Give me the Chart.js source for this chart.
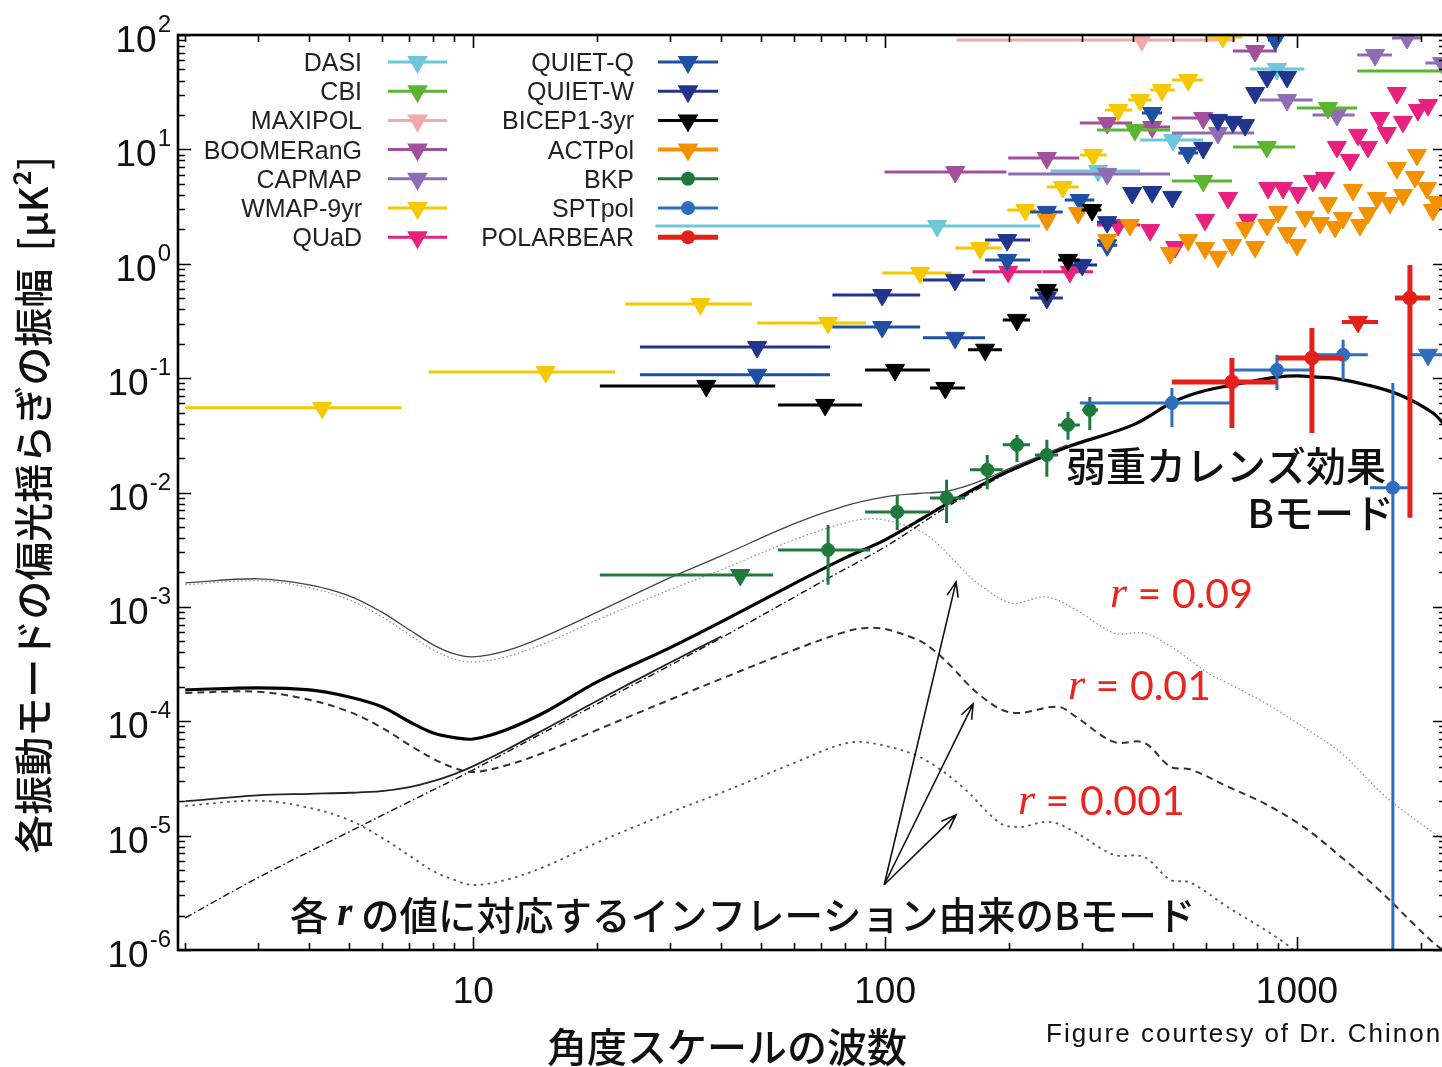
<!DOCTYPE html>
<html>
<head>
<meta charset="utf-8">
<script src="https://cdn.jsdelivr.net/npm/chart.js@4.4.1/dist/chart.umd.min.js"></script>
<style>
  html, body { margin: 0; padding: 0; background: #fff; overflow: hidden; }
  #wrap { width: 1442px; height: 1067px; overflow: hidden; position: relative; }
  canvas { display: block; }
</style>
</head>
<body>
<div id="wrap"><canvas id="chart" width="1460" height="1067"></canvas></div>
<script>
// ---------------------------------------------------------------------------
// Axis ranges and tick labels
// ---------------------------------------------------------------------------
const ellMin = 1.92, ellMax = 2300;
const dlMin = 1e-6, dlMax = 1e2;
const xTickLabels = ['10', '100', '1000'];
const yTickPowers = [2, 1, 0, -1, -2, -3, -4, -5, -6];

// ---------------------------------------------------------------------------
// Theory curves: multipole ell and D_ell [uK^2]
// ---------------------------------------------------------------------------
const lensEll = [2, 3, 5, 7, 10, 20, 40, 70, 100, 140, 177, 200, 277, 400, 500, 582, 700, 894, 1000, 1118, 1223, 1479, 1778, 2138, 2300];
const lensDl  = [1.91e-6, 4.28e-6, 1.08e-5, 1.98e-5, 3.76e-5, 1.42e-4, 5.36e-4, 1.65e-3, 3.35e-3, 7.33e-3, 0.0119, 0.0151, 0.0250, 0.0390, 0.0619, 0.0757, 0.0872, 0.102, 0.1045, 0.102, 0.100, 0.0872, 0.0713, 0.0496, 0.0375];

const tot01Ell = [2, 3, 4, 5, 6, 7, 8, 9, 10, 12, 15, 20, 30, 40, 60, 80, 100, 140, 177, 200, 277, 400, 500, 582, 700, 894, 1000, 1118, 1223, 1479, 1778, 2138, 2300];
const tot01Dl  = [1.88e-4, 1.96e-4, 1.88e-4, 1.63e-4, 1.34e-4, 9.9e-5, 7.9e-5, 7.2e-5, 7.0e-5, 8.4e-5, 1.21e-4, 2.21e-4, 4.38e-4, 7.39e-4, 1.59e-3, 2.68e-3, 3.85e-3, 7.79e-3, 0.0124, 0.0154, 0.0250, 0.0390, 0.0619, 0.0757, 0.0872, 0.102, 0.1045, 0.102, 0.100, 0.0872, 0.0713, 0.0496, 0.0375];

const prim01Ell = [2, 3, 4, 5, 6, 7, 8, 9, 10, 12, 15, 20, 30, 40, 60, 80, 90, 100, 120, 131, 145, 159, 172, 192, 212, 263, 291, 359, 425, 493, 550, 676, 836, 1035, 1280, 1575, 1948, 2120, 2300];
const prim01Dl  = [1.77e-4, 1.81e-4, 1.54e-4, 1.21e-4, 8.8e-5, 6.2e-5, 4.7e-5, 3.9e-5, 3.6e-5, 4.1e-5, 5.4e-5, 8.4e-5, 1.54e-4, 2.35e-4, 4.2e-4, 6.05e-4, 6.55e-4, 6.4e-4, 5.15e-4, 4.2e-4, 3.0e-4, 2.1e-4, 1.63e-4, 1.26e-4, 1.18e-4, 1.34e-4, 1.09e-4, 6.6e-5, 6.5e-5, 4.0e-5, 3.8e-5, 2.7e-5, 1.9e-5, 1.2e-5, 6.5e-6, 3.4e-6, 1.6e-6, 1.2e-6, 9.5e-7];

const tot09Ell = [2, 3, 4, 5, 6, 7, 8, 9, 10, 12, 15, 20, 30, 40, 60, 80, 100, 120, 140, 160, 180, 200, 230, 260, 277];
const tot09Dl  = [1.62e-3, 1.76e-3, 1.56e-3, 1.25e-3, 9.0e-4, 6.3e-4, 4.66e-4, 3.88e-4, 3.66e-4, 4.12e-4, 5.58e-4, 9.0e-4, 1.79e-3, 2.79e-3, 5.32e-3, 7.64e-3, 9.16e-3, 9.8e-3, 1.02e-2, 1.16e-2, 1.37e-2, 1.62e-2, 1.99e-2, 2.38e-2, 2.61e-2];

const prim09Ell = [2, 3, 4, 5, 6, 7, 8, 9, 10, 12, 15, 20, 30, 40, 60, 80, 90, 100, 120, 131, 145, 159, 172, 203, 246, 291, 360, 425, 494, 608, 676, 836, 1035, 1279, 1644, 2300];
const prim09Dl  = [1.56e-3, 1.69e-3, 1.47e-3, 1.15e-3, 8.2e-4, 5.7e-4, 4.2e-4, 3.5e-4, 3.3e-4, 3.66e-4, 4.84e-4, 7.7e-4, 1.41e-3, 2.11e-3, 3.85e-3, 5.42e-3, 5.87e-3, 5.75e-3, 4.71e-3, 3.85e-3, 2.68e-3, 1.90e-3, 1.50e-3, 1.08e-3, 1.22e-3, 9.4e-4, 5.9e-4, 5.9e-4, 4.5e-4, 2.65e-4, 2.17e-4, 1.45e-4, 8.9e-5, 5.3e-5, 2.18e-5, 8.8e-6];

const tot001Ell = [2, 3, 4, 5, 6, 7, 8, 9, 10, 12, 15, 20, 30, 40];
const tot001Dl  = [2.0e-5, 2.25e-5, 2.32e-5, 2.37e-5, 2.45e-5, 2.65e-5, 3.0e-5, 3.45e-5, 4.05e-5, 5.6e-5, 8.6e-5, 1.51e-4, 3.25e-4, 5.5e-4];

const prim001Ell = [2, 3, 4, 5, 6, 7, 8, 9, 10, 12, 15, 20, 30, 40, 60, 82, 102, 125, 154, 190, 212, 251, 291, 359, 425, 493, 550, 676, 931, 1150];
const prim001Dl  = [1.82e-5, 2.02e-5, 1.75e-5, 1.37e-5, 9.6e-6, 6.7e-6, 4.9e-6, 4.1e-6, 3.7e-6, 4.1e-6, 5.4e-6, 8.7e-6, 1.59e-5, 2.37e-5, 4.3e-5, 6.5e-5, 6.0e-5, 4.6e-5, 2.67e-5, 1.29e-5, 1.19e-5, 1.32e-5, 1.06e-5, 6.8e-6, 6.5e-6, 4.1e-6, 3.9e-6, 2.4e-6, 1.16e-6, 6e-7];

// ---------------------------------------------------------------------------
// Upper limits: [ell, D_ell, ellLo, ellHi]  (bin edges optional)
// ---------------------------------------------------------------------------
const dasi = [[133.7, 2.14, 27.7, 238], [329, 6.47, 252, 416], [500, 12.1, 416, 591], [894, 50.5, 770, 1042]];
const cbi = [[404, 14.8, 327, 492], [592, 5.30, 497, 695], [845, 10.5, 699, 990], [1189, 23.0, 1000, 1400], [2630, 48.4, 1400, 4000]];
const maxipol = [[420, 90.4, 149, 708]];
const boomerang = [[148, 6.34, 99.7, 197], [247, 8.41, 199, 296], [346, 17.0, 297, 398], [445, 15.7, 398, 492], [592, 18.8, 497, 695], [791, 72.4, 699, 894]];
const capmap = [[346, 6.10, 199, 492], [643, 13.9, 497, 787], [946, 27.0, 813, 1091], [1250, 20.0, 1091, 1380], [1547, 66.8, 1400, 1700], [1850, 94, 1700, 2000], [2250, 56.9, 2050, 2500]];
const wmap = [[4.3, 0.055, 2, 6.7], [15.0, 0.113, 7.8, 22.1], [35.6, 0.445, 23.4, 47.5], [72.7, 0.304, 48.9, 89.9], [121.6, 0.832, 98.4, 145],
  [170, 1.37, 148, 192], [219, 2.95, 198, 233], [270, 4.69, 247, 295], [320, 8.93, 297, 345], [368, 22.1, 342, 398],
  [416, 27.0, 389, 444], [470, 33.0, 440, 505], [544, 40.4, 497, 592], [661, 96, 597, 737]];
const quad = [[199, 0.85, 163, 240], [281, 0.85, 241, 320], [368, 2.18, 327, 416], [440, 1.97], [506, 1.40], [598, 2.42], [680, 3.76], [760, 2.42],
  [851, 4.60], [925, 4.60], [1005, 4.16], [1093, 5.30], [1169, 5.62], [1250, 10.5], [1345, 8.08], [1406, 13.4], [1487, 10.5],
  [1590, 18.8], [1652, 13.9], [1748, 31.1], [1808, 17.4], [1966, 22.1], [2080, 24.4]];
const quietQ = [[48.9, 0.107, 25.4, 73.5], [98.4, 0.280, 74.5, 121.6], [147.9, 0.225, 123.6, 174.9], [197.9, 1.08, 174.9, 224.9],
  [247, 2.84, 225, 270], [297, 3.61, 273, 322], [346, 1.45, 327, 366], [445, 20.8, 420, 470], [544, 9.31, 515, 575], [885, 90.4, 850, 920]];
const quietW = [[48.9, 0.187, 25.4, 73.5], [98.4, 0.533, 74.5, 121.6], [147.9, 0.722, 123.6, 174.9], [197.9, 1.61, 174.9, 224.9],
  [247, 0.502, 225, 270], [301, 0.977, 273, 327], [346, 2.31, 327, 366], [398, 4.16], [445, 4.24], [498, 3.84], [592, 10.3],
  [643, 18.1], [699, 17.4], [748, 16.3], [791, 31.1], [846, 43.0], [946, 43.0]];
const bicep = [[36.8, 0.0855, 20.3, 54.1], [71.5, 0.0583, 55.0, 87.9], [105.7, 0.118, 89.4, 128.5], [140, 0.082, 128.5, 156.3],
  [174.9, 0.177, 159, 192], [209, 0.323, 193, 225], [247, 0.590, 231, 263], [278, 1.08, 263, 297], [318, 2.95, 300, 335]];
const actpol = [[247, 2.42], [294, 2.78], [346, 1.61], [393, 2.18], [492, 1.24], [544, 1.61], [598, 1.37], [643, 1.15], [696, 1.46],
  [748, 2.06], [791, 1.40], [846, 2.18], [899, 2.84], [946, 1.86], [1000, 1.46], [1046, 2.57], [1137, 2.27], [1189, 3.40],
  [1237, 2.10], [1293, 2.51], [1367, 4.42], [1422, 2.18], [1487, 2.78], [1564, 3.76], [1681, 3.40], [1748, 6.88], [1809, 3.99],
  [1934, 5.74], [1956, 8.94], [2068, 4.60], [2138, 2.95], [2186, 3.47]];
const bkpLimit = [[44.5, 1.90e-3, 20.3, 53.5]];
const sptLimit = [[2080, 0.160, 1880, 2300]];
const pbLimit = [[1406, 0.310, 1285, 1573]];

// ---------------------------------------------------------------------------
// Detections: [ell, D_ell, ellLo, ellHi, dLo, dHi]
// ---------------------------------------------------------------------------
const bkp = [[72.7, 3.15e-3, 55.0, 92.0, 1.56e-3, 5.21e-3], [107, 6.76e-3, 89.4, 128.5, 4.71e-3, 9.5e-3],
  [141, 8.97e-3, 128.5, 156.3, 5.42e-3, 0.0129], [177, 0.0158, 160.6, 193, 0.0107, 0.0213],
  [209, 0.0261, 193, 225, 0.0185, 0.0319], [247, 0.0213, 231, 263, 0.0137, 0.0289],
  [278, 0.039, 263, 297, 0.0289, 0.0507], [314, 0.0527, 301, 329, 0.0352, 0.0685]];
const sptpol = [[497, 0.0607, 297, 688, 0.0374, 0.082], [894, 0.118, 699, 1076, 0.0789, 0.160],
  [1294, 0.160, 1076, 1486, 0.0964, 0.216], [1709, 0.0110, 1503, 1859, 1e-7, 0.0908]];
const polarbear = [[695, 0.0927, 497, 894, 0.0367, 0.150], [1087, 0.150, 894, 1294, 0.0332, 0.275],
  [1880, 0.502, 1729, 2104, 6.0e-3, 0.977]];

// Arrows from the caption to the three primordial curves
const arrowFrom = [99.5, 3.72e-6];
const arrowTips = [[148.7, 1.655e-3], [163.6, 1.42e-4], [148.7, 1.52e-5]];

const legendLeft = ['DASI', 'CBI', 'MAXIPOL', 'BOOMERanG', 'CAPMAP', 'WMAP-9yr', 'QUaD'];
const legendRight = ['QUIET-Q', 'QUIET-W', 'BICEP1-3yr', 'ACTPol', 'BKP', 'SPTpol', 'POLARBEAR'];

// ---------------------------------------------------------------------------
// Dataset builders
// ---------------------------------------------------------------------------
function curve(ells, vals, style) {
  return Object.assign({
    data: ells.map((e, i) => ({ x: e, y: vals[i] })),
    showLine: true, pointRadius: 0, fill: false, clip: 0,
    tension: 0.35, order: 50
  }, style);
}

function limits(label, rows, color, order, extra) {
  return Object.assign({
    label,
    data: rows.map(r => ({ x: r[0], y: r[1], xMin: r[2], xMax: r[3] })),
    showLine: false, pointStyle: 'triangle', rotation: 180, pointRadius: 11,
    backgroundColor: color, borderColor: color, pointBorderWidth: 1,
    bars: true, barWidth: 3, order
  }, extra);
}

function detections(label, rows, color, order, extra) {
  return Object.assign({
    label,
    data: rows.map(r => ({ x: r[0], y: r[1], xMin: r[2], xMax: r[3], yMin: r[4], yMax: r[5] })),
    showLine: false, pointStyle: 'circle', pointRadius: 6.5,
    backgroundColor: color, borderColor: color, pointBorderWidth: 1,
    bars: true, barWidth: 3, order
  }, extra);
}

const colors = {
  DASI: '#6ec6d9', CBI: '#5cb531', MAXIPOL: '#f4a9a9', BOOMERanG: '#a24f9d', CAPMAP: '#8f6db5',
  'WMAP-9yr': '#f5c800', QUaD: '#e6217f', 'QUIET-Q': '#1f4fa3', 'QUIET-W': '#22358e',
  'BICEP1-3yr': '#000000', ACTPol: '#f39200', BKP: '#1e7a3c', SPTpol: '#2f6ebd', POLARBEAR: '#e4201b'
};

const datasets = [
  curve(prim09Ell, prim09Dl, { borderColor: '#8a8a8a', borderWidth: 1.2, borderDash: [1.5, 2.5] }),
  curve(tot09Ell, tot09Dl, { borderColor: '#444', borderWidth: 1.3 }),
  curve(prim001Ell, prim001Dl, { borderColor: '#555', borderWidth: 1.8, borderDash: [2.5, 4.5] }),
  curve(tot001Ell, tot001Dl, { borderColor: '#222', borderWidth: 1.8 }),
  curve(prim01Ell, prim01Dl, { borderColor: '#333', borderWidth: 2, borderDash: [7, 5] }),
  curve(lensEll, lensDl, { borderColor: '#111', borderWidth: 1.4, borderDash: [7, 3, 1.5, 3] }),
  curve(tot01Ell, tot01Dl, { borderColor: '#000', borderWidth: 3.2 }),

  limits('MAXIPOL', maxipol, colors.MAXIPOL, 20),
  limits('DASI', dasi, colors.DASI, 19),
  limits('CAPMAP', capmap, colors.CAPMAP, 18),
  limits('BOOMERanG', boomerang, colors.BOOMERanG, 17),
  limits('CBI', cbi, colors.CBI, 16),
  limits('WMAP-9yr', wmap, colors['WMAP-9yr'], 15),
  limits('QUaD', quad, colors.QUaD, 14),
  limits('QUIET-Q', quietQ, colors['QUIET-Q'], 13),
  limits('QUIET-W', quietW, colors['QUIET-W'], 12),
  limits('ACTPol', actpol, colors.ACTPol, 11, { barWidth: 4 }),
  limits('BICEP1-3yr', bicep, colors['BICEP1-3yr'], 10),
  limits('BKP limit', bkpLimit, colors.BKP, 9),
  detections('BKP', bkp, colors.BKP, 8),
  limits('SPTpol limit', sptLimit, colors.SPTpol, 7),
  detections('SPTpol', sptpol, colors.SPTpol, 6),
  limits('POLARBEAR limit', pbLimit, colors.POLARBEAR, 5, { barWidth: 4 }),
  detections('POLARBEAR', polarbear, colors.POLARBEAR, 4, { barWidth: 5, pointRadius: 7 })
];

// ---------------------------------------------------------------------------
// Plugins
// ---------------------------------------------------------------------------
function logTicks(lo, hi) {
  const out = [];
  for (let e = Math.floor(Math.log10(lo)); e <= Math.ceil(Math.log10(hi)); e++) {
    for (let m = 1; m <= 9; m++) {
      const v = m * Math.pow(10, e);
      if (v >= lo * 0.999 && v <= hi * 1.001) out.push({ v, major: m === 1 });
    }
  }
  return out;
}

// horizontal bin bars and vertical error bars, drawn just under each dataset's markers
const errorBars = {
  id: 'errorBars',
  beforeDatasetDraw(chart, args) {
    const ds = chart.data.datasets[args.index];
    if (!ds.bars) return;
    const { ctx, chartArea: a, scales: { x, y } } = chart;
    ctx.save();
    ctx.beginPath();
    ctx.rect(a.left, a.top, a.right - a.left, a.bottom - a.top);
    ctx.clip();
    ctx.strokeStyle = ds.borderColor;
    ctx.lineWidth = ds.barWidth;
    ctx.beginPath();
    ds.data.forEach(p => {
      const py = y.getPixelForValue(p.y);
      if (p.xMin != null) {
        ctx.moveTo(x.getPixelForValue(p.xMin), py);
        ctx.lineTo(x.getPixelForValue(p.xMax), py);
      }
      if (p.yMin != null) {
        const px = x.getPixelForValue(p.x);
        ctx.moveTo(px, y.getPixelForValue(p.yMin));
        ctx.lineTo(px, y.getPixelForValue(p.yMax));
      }
    });
    ctx.stroke();
    ctx.restore();
  }
};

function drawArrow(ctx, x0, y0, x1, y1) {
  const ang = Math.atan2(y1 - y0, x1 - x0), len = 16, spread = 0.36;
  ctx.beginPath();
  ctx.moveTo(x0, y0); ctx.lineTo(x1, y1);
  ctx.moveTo(x1 - len * Math.cos(ang - spread), y1 - len * Math.sin(ang - spread));
  ctx.lineTo(x1, y1);
  ctx.lineTo(x1 - len * Math.cos(ang + spread), y1 - len * Math.sin(ang + spread));
  ctx.stroke();
}

function drawRuns(ctx, runs, x, y) {
  let cx = x;
  runs.forEach(([t, f]) => {
    ctx.font = f;
    ctx.fillText(t, cx, y);
    cx += ctx.measureText(t).width;
  });
  return cx;
}

function legendMarker(ctx, style, cx, cy, r) {
  ctx.beginPath();
  if (style === 'circle') {
    ctx.arc(cx, cy, r, 0, Math.PI * 2);
  } else {
    const s = Math.sin(Math.PI / 3) * r;
    ctx.moveTo(cx, cy + r);
    ctx.lineTo(cx - s, cy - r / 2);
    ctx.lineTo(cx + s, cy - r / 2);
    ctx.closePath();
  }
  ctx.fill();
}

const decorations = {
  id: 'decorations',
  afterDraw(chart) {
    const { ctx, chartArea: a, scales: { x, y } } = chart;
    ctx.save();

    // ticks on all four sides, pointing inwards
    ctx.strokeStyle = '#000';
    ctx.lineWidth = 1.6;
    ctx.beginPath();
    logTicks(ellMin, ellMax).forEach(t => {
      const px = Math.round(x.getPixelForValue(t.v)) + 0.5;
      const len = t.major ? 13 : 7;
      ctx.moveTo(px, a.bottom); ctx.lineTo(px, a.bottom - len);
      ctx.moveTo(px, a.top); ctx.lineTo(px, a.top + len);
    });
    logTicks(dlMin, dlMax).forEach(t => {
      const py = Math.round(y.getPixelForValue(t.v)) + 0.5;
      const len = t.major ? 13 : 7;
      ctx.moveTo(a.left, py); ctx.lineTo(a.left + len, py);
      ctx.moveTo(a.right, py); ctx.lineTo(a.right - len, py);
    });
    ctx.stroke();
    ctx.lineWidth = 2.6;
    ctx.strokeRect(a.left, a.top, a.right - a.left, a.bottom - a.top);

    // tick labels
    ctx.fillStyle = '#111';
    ctx.textBaseline = 'alphabetic';
    ctx.font = '37px "Liberation Sans", Arial, sans-serif';
    ctx.textAlign = 'center';
    xTickLabels.forEach(t => ctx.fillText(t, x.getPixelForValue(Number(t)), a.bottom + 53));
    ctx.textAlign = 'left';
    yTickPowers.forEach(p => {
      const py = y.getPixelForValue(Math.pow(10, p));
      ctx.font = '24px "Liberation Sans", Arial, sans-serif';
      const exp = String(p);
      const we = ctx.measureText(exp).width;
      ctx.font = '37px "Liberation Sans", Arial, sans-serif';
      const wb = ctx.measureText('10').width;
      const x0 = a.left - 8 - we - wb;
      ctx.fillText('10', x0, py + 17);
      ctx.font = '24px "Liberation Sans", Arial, sans-serif';
      ctx.fillText(exp, x0 + wb + 1, py - 3);
    });

    // axis titles
    ctx.font = '500 40px "Noto Sans CJK JP", sans-serif';
    ctx.textAlign = 'center';
    ctx.textBaseline = 'middle';
    ctx.fillText('角度スケールの波数', 727, 1047);
    ctx.save();
    ctx.translate(33, 505);
    ctx.rotate(-Math.PI / 2);
    ctx.font = '500 39px "Noto Sans CJK JP", sans-serif';
    ctx.fillText('各振動モードの偏光揺らぎの振幅  [μK²]', 0, 0);
    ctx.restore();

    // legend
    ctx.textAlign = 'right';
    ctx.textBaseline = 'alphabetic';
    [[legendLeft, 362, 388, 447], [legendRight, 634, 658, 718]].forEach(([names, tx, l0, l1]) => {
      names.forEach((name, row) => {
        const ds = chart.data.datasets.find(d => d.label === name);
        const yy = 62 + row * 29.2;
        ctx.fillStyle = '#222';
        ctx.font = '25px "Liberation Sans", Arial, sans-serif';
        ctx.fillText(name, tx, yy + 9);
        ctx.strokeStyle = ds.borderColor;
        ctx.fillStyle = ds.borderColor;
        ctx.lineWidth = ds.barWidth;
        ctx.beginPath(); ctx.moveTo(l0, yy); ctx.lineTo(l1, yy); ctx.stroke();
        legendMarker(ctx, ds.pointStyle, (l0 + l1) / 2, yy, ds.pointStyle === 'circle' ? 7 : 12);
      });
    });

    // arrows
    ctx.strokeStyle = '#111';
    ctx.lineWidth = 1.6;
    const ax = x.getPixelForValue(arrowFrom[0]), ay = y.getPixelForValue(arrowFrom[1]);
    arrowTips.forEach(t => drawArrow(ctx, ax, ay, x.getPixelForValue(t[0]), y.getPixelForValue(t[1])));

    // annotations
    ctx.textAlign = 'left';
    ctx.textBaseline = 'middle';
    ctx.fillStyle = '#111';
    ctx.font = '500 40px "Noto Sans CJK JP", sans-serif';
    ctx.fillText('弱重カレンズ効果', 1066, 466);
    ctx.textAlign = 'right';
    ctx.fillText('Bモード', 1394, 513);
    ctx.textAlign = 'left';
    const jp = '500 38.5px "Noto Sans CJK JP", sans-serif';
    drawRuns(ctx, [['各 ', jp], ['r', 'bold italic 39px "Liberation Serif", serif'], [' の値に対応するインフレーション由来のBモード', jp]], 290, 915);

    ctx.fillStyle = '#e8251f';
    const rFont = 'italic 44px "Liberation Serif", serif';
    const nFont = '41px Lato, "Open Sans", sans-serif';
    drawRuns(ctx, [['r', rFont], [' = 0.09', nFont]], 1110, 595);
    drawRuns(ctx, [['r', rFont], [' = 0.01', nFont]], 1068, 687);
    drawRuns(ctx, [['r', rFont], [' = 0.001', nFont]], 1018, 802);

    ctx.fillStyle = '#111';
    ctx.font = '26px "Liberation Sans", Arial, sans-serif';
    ctx.letterSpacing = '2px';
    ctx.fillText('Figure courtesy of Dr. Chinone', 1046, 1035);
    ctx.restore();
  }
};

new Chart(document.getElementById('chart'), {
  type: 'scatter',
  data: { datasets },
  options: {
    responsive: false,
    animation: false,
    events: [],
    layout: { padding: { left: 178, top: 35, right: 14, bottom: 117 } },
    scales: {
      x: { type: 'logarithmic', min: ellMin, max: ellMax, display: false },
      y: { type: 'logarithmic', min: dlMin, max: dlMax, display: false }
    },
    plugins: { legend: { display: false }, tooltip: { enabled: false } }
  },
  plugins: [errorBars, decorations]
});
</script>
</body>
</html>
